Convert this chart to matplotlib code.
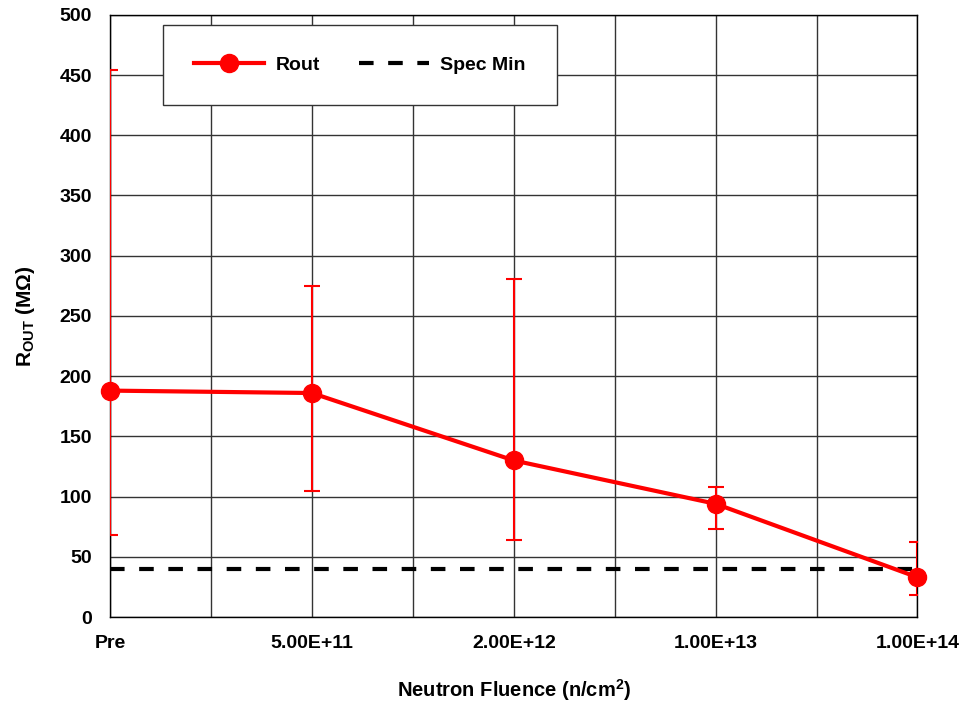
import numpy as np
import matplotlib.pyplot as plt

plt.rcParams['font.family'] = ['Liberation Sans', 'DejaVu Sans']
plt.rcParams['font.weight'] = 'bold'
plt.rcParams['axes.labelweight'] = 'bold'
plt.rcParams['mathtext.fontset'] = 'custom'
plt.rcParams['mathtext.rm'] = 'Liberation Sans:bold'
plt.rcParams['mathtext.bf'] = 'Liberation Sans:bold'
plt.rcParams['mathtext.it'] = 'Liberation Sans:bold'

categories = ['Pre', '5.00E+11', '2.00E+12', '1.00E+13', '1.00E+14']
rout = [188, 186, 130, 94, 33]
rout_hi = [454, 275, 281, 108, 62]
rout_lo = [68, 105, 64, 73, 18]
spec_min = 40

x = np.arange(len(categories))
err = [np.array(rout) - np.array(rout_lo), np.array(rout_hi) - np.array(rout)]

fig = plt.figure(figsize=(9.67, 7.06), dpi=100)
ax = fig.add_axes([0.1138, 0.126, 0.835, 0.853])

ax.errorbar(x, rout, yerr=err, fmt='none', ecolor='#ff0000', elinewidth=1.5,
            capsize=6, capthick=1.5, zorder=3)
ax.plot(x, rout, color='#ff0000', lw=3, marker='o', markersize=13,
        label='Rout', zorder=4, clip_on=False)
ax.plot([x[0], x[-1]], [spec_min, spec_min], color='black', lw=3,
        dashes=(3.5, 3.5), label='Spec Min', zorder=3)

ax.set_xlim(0, 4)
ax.set_ylim(0, 500)
ax.set_yticks(np.arange(0, 501, 50))
ax.set_xticks(x)
ax.set_xticklabels(categories)
ax.set_xticks(np.arange(0.5, 4, 1), minor=True)
ax.grid(True, which='both', color='#333333', lw=1)
ax.set_axisbelow(True)
ax.tick_params(which='both', length=0, labelsize=14, pad=13)
ax.tick_params(axis='y', pad=13)
for s in ax.spines.values():
    s.set_color('black')
    s.set_linewidth(1)

ax.set_xlabel('Neutron Fluence (n/cm$^{2}$)', fontsize=14.5, labelpad=18)
ax.set_ylabel('R$_{OUT}$ (M\u03a9)', fontsize=15, labelpad=16)

leg = ax.legend(ncol=2, loc='upper left', bbox_to_anchor=(0.065, 0.983),
                fontsize=14, handlelength=3.6, columnspacing=2.0,
                handletextpad=0.6, borderpad=1.6, fancybox=False,
                framealpha=1, edgecolor='#333333', borderaxespad=0)
leg.get_frame().set_linewidth(1)

fig.savefig('out.png', dpi=100)
